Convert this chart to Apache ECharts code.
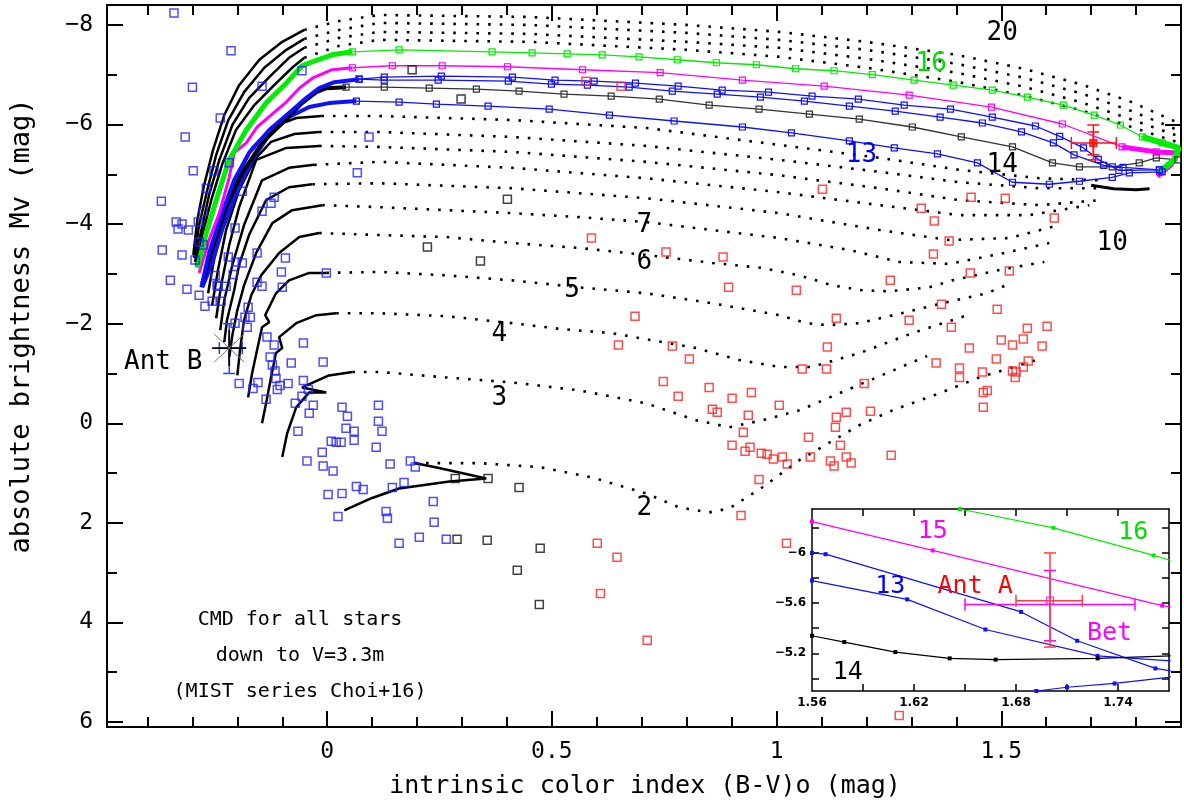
<!DOCTYPE html>
<html><head><meta charset="utf-8">
<script src="https://cdn.jsdelivr.net/npm/echarts@6/dist/echarts.min.js"></script>
<style>html,body{margin:0;padding:0;background:#fff}#c{width:1184px;height:809px}</style>
</head><body><div id="c"></div>
<script>
// ---------- tick / label values ----------
const xMajor=[0,0.5,1,1.5];
const xMinor=[-0.4,-0.3,-0.2,-0.1,0.1,0.2,0.3,0.4,0.6,0.7,0.8,0.9,1.1,1.2,1.3,1.4,1.6,1.7,1.8];
const yMajor=[-8,-6,-4,-2,0,2,4,6];
const yMinor=[-7,-5,-3,-1,1,3,5];
const insetXTicks=[1.59,1.62,1.65,1.68,1.71,1.74];
const insetXLabels=[1.56,1.62,1.68,1.74];
const insetYTicks=[-6.2,-6,-5.8,-5.6,-5.4,-5.2,-5];
const insetYLabels=[-6,-5.6,-5.2];

// ---------- evolutionary tracks (B-V, Mv) ----------
const track2MS=[[0.038,1.75],[0.100,1.50],[0.160,1.31],[0.272,1.17],[0.354,1.11],[0.249,0.90],[0.194,0.80]];
const track2Gap=[[0.194,0.80],[0.338,0.80],[0.472,0.88],[0.590,1.09],[0.710,1.41],[0.783,1.69],[0.850,1.79],[0.895,1.71],[0.968,1.29],[1.051,0.74],[1.184,0.04],[1.258,-0.26],[1.362,-0.60],[1.451,-0.92],[1.578,-1.27]];
const track3MS=[[-0.100,0.68],[-0.089,0.20],[-0.069,-0.32],[-0.040,-0.62],[-0.002,-0.62],[-0.056,-0.72],[0.004,-0.96],[0.056,-1.03]];
const track3Gap=[[0.056,-1.03],[0.116,-1.03],[0.265,-0.92],[0.412,-0.82],[0.561,-0.66],[0.710,-0.40],[0.821,-0.06],[0.895,0.08],[0.968,-0.06],[1.051,-0.26],[1.191,-0.80],[1.335,-1.35]];
const track4MS=[[-0.145,0.00],[-0.136,-0.40],[-0.125,-0.92],[-0.114,-1.41],[-0.100,-1.51],[-0.107,-1.73],[-0.069,-2.01],[-0.024,-2.17],[0.020,-2.21]];
const track4Gap=[[0.020,-2.21],[0.116,-2.21],[0.265,-2.15],[0.412,-2.01],[0.523,-1.89],[0.634,-1.81],[0.746,-1.63],[0.821,-1.51],[0.917,-1.27],[1.006,-1.13],[1.079,-1.13],[1.191,-1.43],[1.302,-1.81],[1.418,-2.15]];
const track5MS=[[-0.176,-0.52],[-0.167,-1.01],[-0.156,-1.47],[-0.145,-1.93],[-0.129,-2.03],[-0.138,-2.17],[-0.114,-2.61],[-0.085,-2.87],[-0.040,-3.02],[-0.002,-3.02]];
const track5Gap=[[-0.002,-3.02],[0.116,-3.04],[0.265,-2.97],[0.412,-2.87],[0.561,-2.73],[0.710,-2.61],[0.857,-2.41],[1.006,-2.17],[1.066,-2.01],[1.113,-1.97],[1.184,-2.01],[1.278,-2.21],[1.369,-2.41],[1.467,-2.61],[1.511,-2.77]];
const track6MS=[[-0.200,-0.96],[-0.194,-1.47],[-0.185,-2.07],[-0.169,-2.57],[-0.147,-2.97],[-0.107,-3.42],[-0.062,-3.74],[-0.018,-3.82]];
const track6Gap=[[-0.018,-3.82],[0.116,-3.78],[0.265,-3.74],[0.412,-3.62],[0.561,-3.52],[0.710,-3.38],[0.857,-3.22],[0.968,-3.12],[1.051,-2.97],[1.124,-2.77],[1.191,-2.67],[1.251,-2.65],[1.340,-2.73],[1.391,-2.87],[1.496,-3.08],[1.596,-3.24]];
const track7MS=[[-0.218,-1.33],[-0.211,-1.77],[-0.200,-2.27],[-0.185,-2.77],[-0.158,-3.42],[-0.122,-4.02],[-0.078,-4.28],[-0.011,-4.38]];
const track7Gap=[[-0.011,-4.38],[0.116,-4.34],[0.265,-4.28],[0.412,-4.22],[0.561,-4.14],[0.710,-4.04],[0.857,-3.88],[1.006,-3.72],[1.162,-3.48],[1.273,-3.24],[1.384,-3.20],[1.496,-3.40],[1.607,-3.62]];
const track8MS=[[-0.229,-1.63],[-0.223,-2.07],[-0.207,-2.67],[-0.196,-3.18],[-0.174,-3.78],[-0.136,-4.48],[-0.085,-4.74],[-0.033,-4.80]];
const track8Gap=[[-0.033,-4.80],[0.116,-4.82],[0.412,-4.72],[0.710,-4.52],[1.006,-4.22],[1.229,-3.88],[1.384,-3.68],[1.518,-3.72],[1.629,-3.98]];
const track9MS=[[-0.238,-1.87],[-0.229,-2.47],[-0.211,-3.18],[-0.185,-3.98],[-0.145,-4.88],[-0.085,-5.13],[-0.029,-5.19]];
const track9Gap=[[-0.029,-5.19],[0.116,-5.25],[0.412,-5.13],[0.710,-4.92],[1.006,-4.64],[1.229,-4.38],[1.407,-4.18],[1.562,-4.18],[1.696,-4.38]];
const track10MS=[[-0.247,-2.11],[-0.236,-2.77],[-0.218,-3.58],[-0.196,-4.34],[-0.158,-5.29],[-0.091,-5.53],[-0.018,-5.57]];
const track10Gap=[[-0.018,-5.57],[0.116,-5.55],[0.412,-5.45],[0.710,-5.25],[1.006,-4.98],[1.229,-4.72],[1.407,-4.48],[1.585,-4.38],[1.718,-4.48]];
const track11MS=[[-0.256,-2.37],[-0.243,-3.08],[-0.225,-3.88],[-0.196,-4.68],[-0.162,-5.29],[-0.125,-5.65],[-0.073,-5.81],[-0.018,-5.85]];
const track11Gap=[[-0.018,-5.85],[0.116,-5.85],[0.412,-5.75],[0.710,-5.57],[1.006,-5.29],[1.229,-5.05],[1.407,-4.84],[1.585,-4.72],[1.718,-4.72]];
const track12MS=[[-0.265,-2.61],[-0.252,-3.28],[-0.231,-4.08],[-0.203,-4.88],[-0.167,-5.53],[-0.122,-5.95],[-0.069,-6.13],[-0.013,-6.17]];
const track12Gap=[[-0.013,-6.17],[0.116,-6.17],[0.412,-6.09],[0.710,-5.93],[1.006,-5.59],[1.229,-5.33],[1.407,-5.09],[1.585,-4.92],[1.718,-4.88]];
const track17MS=[[-0.292,-3.16],[-0.278,-3.78],[-0.258,-4.48],[-0.234,-5.19],[-0.203,-5.89],[-0.162,-6.39],[-0.118,-6.79],[-0.078,-7.14],[-0.051,-7.34]];
const track17Gap=[[-0.051,-7.34],[0.027,-7.58],[0.116,-7.70],[0.45,-7.66],[0.80,-7.50],[1.006,-7.36],[1.20,-7.14],[1.40,-6.86],[1.55,-6.58],[1.68,-6.28],[1.79,-5.95],[1.89,-5.65]];
const track18MS=[[-0.294,-3.24],[-0.280,-3.88],[-0.263,-4.58],[-0.240,-5.29],[-0.211,-5.99],[-0.174,-6.53],[-0.129,-6.95],[-0.085,-7.34],[-0.051,-7.54]];
const track18Gap=[[-0.051,-7.54],[0.027,-7.74],[0.116,-7.86],[0.45,-7.82],[0.80,-7.66],[1.006,-7.54],[1.20,-7.32],[1.40,-7.04],[1.55,-6.76],[1.68,-6.44],[1.79,-6.10],[1.89,-5.78]];
const track19MS=[[-0.296,-3.32],[-0.285,-3.98],[-0.267,-4.68],[-0.247,-5.39],[-0.220,-6.09],[-0.185,-6.65],[-0.140,-7.14],[-0.091,-7.50],[-0.051,-7.72]];
const track19Gap=[[-0.051,-7.72],[0.027,-7.90],[0.116,-8.04],[0.45,-8.00],[0.80,-7.84],[1.006,-7.70],[1.20,-7.50],[1.40,-7.22],[1.55,-6.94],[1.68,-6.62],[1.79,-6.27],[1.89,-5.90]];
const track20MS=[[-0.298,-3.38],[-0.289,-4.08],[-0.274,-4.78],[-0.254,-5.49],[-0.229,-6.19],[-0.196,-6.79],[-0.151,-7.30],[-0.100,-7.66],[-0.051,-7.90]];
const track20Gap=[[-0.051,-7.90],[0.027,-8.08],[0.116,-8.20],[0.45,-8.16],[0.80,-8.00],[1.006,-7.86],[1.20,-7.66],[1.40,-7.40],[1.55,-7.12],[1.68,-6.80],[1.79,-6.45],[1.89,-6.05]];
const loopBlack=[[1.70,-4.78],[1.75,-4.71],[1.80,-4.69],[1.83,-4.71]];

// coloured tracks
const green16MS=[[-0.289,-3.12],[-0.269,-3.82],[-0.247,-4.48],[-0.218,-5.29],[-0.180,-5.89],[-0.136,-6.43],[-0.091,-6.83],[-0.056,-7.18],[-0.033,-7.26],[0.011,-7.40],[0.056,-7.46]];
const green16=[[0.056,-7.46],[0.160,-7.50],[0.367,-7.46],[0.456,-7.44],[0.534,-7.42],[0.612,-7.40],[0.694,-7.36],[0.779,-7.30],[0.866,-7.24],[0.955,-7.20],[1.042,-7.12],[1.128,-7.08],[1.213,-7.00],[1.306,-6.89],[1.393,-6.79],[1.480,-6.69],[1.558,-6.55],[1.638,-6.39],[1.707,-6.19],[1.765,-5.99],[1.814,-5.75],[1.858,-5.63]];
const green16End=[[1.814,-5.75],[1.858,-5.63],[1.895,-5.53],[1.885,-5.29],[1.852,-5.05]];
const magenta15MS=[[-0.285,-3.02],[-0.263,-3.68],[-0.240,-4.22],[-0.218,-4.94],[-0.207,-5.43],[-0.180,-5.63],[-0.156,-5.95],[-0.125,-6.19],[-0.091,-6.45],[-0.062,-6.73],[-0.033,-6.93],[0.011,-7.10],[0.056,-7.14]];
const magenta15=[[0.056,-7.14],[0.145,-7.18],[0.256,-7.18],[0.401,-7.16],[0.568,-7.10],[0.741,-7.04],[0.924,-6.89],[1.106,-6.77],[1.295,-6.59],[1.478,-6.35],[1.636,-6.01],[1.769,-5.55],[1.845,-5.45]];
const magenta15End=[[1.769,-5.55],[1.845,-5.45],[1.893,-5.43],[1.878,-5.19],[1.847,-4.96]];
const blueAMS=[[-0.280,-2.73],[-0.263,-3.42],[-0.234,-4.22],[-0.207,-4.88],[-0.174,-5.43],[-0.129,-5.89],[-0.085,-6.23],[-0.047,-6.53],[-0.018,-6.73],[0.016,-6.85],[0.071,-6.91]];
const blueA=[[0.071,-6.91],[0.127,-6.95],[0.254,-6.97],[0.412,-6.95],[0.507,-6.89],[0.594,-6.87],[0.686,-6.83],[0.781,-6.77],[0.879,-6.69],[0.982,-6.65],[1.079,-6.57],[1.182,-6.51],[1.284,-6.39],[1.387,-6.31],[1.480,-6.15],[1.576,-5.97],[1.630,-5.76],[1.683,-5.53],[1.716,-5.30],[1.762,-5.08],[1.852,-5.09]];
const blueB=[[0.071,-6.91],[0.127,-6.89],[0.247,-6.89],[0.403,-6.87],[0.499,-6.81],[0.579,-6.79],[0.672,-6.75],[0.768,-6.67],[0.868,-6.61],[0.964,-6.55],[1.062,-6.47],[1.162,-6.37],[1.264,-6.27],[1.364,-6.15],[1.458,-6.03],[1.545,-5.85],[1.616,-5.63],[1.662,-5.39],[1.728,-5.18],[1.771,-5.14],[1.852,-5.09]];
const black14MS=[[-0.278,-2.81],[-0.256,-3.48],[-0.225,-4.34],[-0.189,-5.03],[-0.145,-5.63],[-0.100,-6.03],[-0.056,-6.43],[-0.024,-6.65],[-0.002,-6.73],[0.042,-6.75]];
const black14=[[0.042,-6.75],[0.127,-6.75],[0.227,-6.73],[0.332,-6.71],[0.427,-6.67],[0.527,-6.61],[0.632,-6.57],[0.739,-6.51],[0.850,-6.39],[0.961,-6.31],[1.073,-6.21],[1.184,-6.11],[1.302,-5.95],[1.411,-5.75],[1.525,-5.55],[1.614,-5.23],[1.674,-5.15],[1.747,-5.15],[1.807,-5.23],[1.845,-5.33],[1.893,-5.29]];
const blue13MS=[[-0.278,-2.73],[-0.256,-3.22],[-0.234,-3.88],[-0.203,-4.62],[-0.167,-5.29],[-0.129,-5.79],[-0.085,-6.15],[-0.040,-6.35],[0.004,-6.43],[0.065,-6.47]];
const blue13=[[0.065,-6.47],[0.160,-6.45],[0.243,-6.41],[0.358,-6.37],[0.494,-6.31],[0.628,-6.19],[0.772,-6.07],[0.924,-5.95],[1.033,-5.83],[1.162,-5.67],[1.262,-5.53],[1.358,-5.41],[1.447,-5.23],[1.525,-4.84],[1.607,-4.80],[1.674,-4.86],[1.747,-4.94],[1.785,-5.03],[1.858,-5.05]];

// inset (zoom around Antares A)
const insetGreen=[[1.647,-6.35],[1.702,-6.20],[1.761,-5.98],[1.771,-5.94]];
const insetMagenta=[[1.56,-6.25],[1.631,-6.02],[1.766,-5.58],[1.771,-5.57]];
const insetBlueA=[[1.56,-6.0],[1.568,-5.99],[1.683,-5.53],[1.716,-5.30],[1.762,-5.08],[1.771,-5.06]];
const insetBlueB=[[1.56,-5.78],[1.616,-5.63],[1.662,-5.39],[1.728,-5.18],[1.771,-5.14]];
const insetBlack14=[[1.56,-5.34],[1.579,-5.29],[1.609,-5.21],[1.641,-5.16],[1.668,-5.15],[1.728,-5.16],[1.771,-5.18]];
const insetBlue13=[[1.692,-4.90],[1.71,-4.93],[1.738,-4.96],[1.771,-5.01]];

// ---------- stars ----------
const blueStars=[[-0.341,-8.24],[-0.214,-7.48],[-0.300,-6.75],[-0.238,-6.13],[-0.316,-5.75],[-0.298,-5.07],[-0.369,-4.46],[-0.336,-4.04],[-0.323,-4.00],[-0.332,-3.90],[-0.309,-3.88],[-0.287,-4.04],[-0.269,-4.72],[-0.252,-5.07],[-0.218,-5.23],[-0.145,-6.77],[-0.056,-7.08],[-0.189,-4.66],[-0.205,-3.92],[-0.276,-4.26],[-0.285,-3.64],[-0.276,-3.58],[-0.367,-3.48],[-0.323,-3.38],[-0.294,-3.28],[-0.349,-2.87],[-0.312,-2.69],[-0.285,-2.57],[-0.249,-2.97],[-0.209,-2.99],[-0.220,-3.34],[-0.203,-3.24],[-0.189,-3.22],[-0.156,-3.42],[-0.093,-3.32],[-0.102,-3.04],[-0.100,-2.73],[-0.156,-2.83],[-0.145,-2.75],[-0.245,-2.77],[-0.118,-4.54],[-0.125,-4.42],[-0.145,-4.26],[0.093,-5.75],[0.067,-5.03],[-0.002,-3.02],[-0.272,-2.35],[-0.256,-2.45],[-0.236,-2.45],[-0.243,-2.75],[-0.225,-2.75],[-0.205,-2.01],[-0.183,-2.13],[-0.171,-2.13],[-0.176,-2.33],[-0.178,-1.93],[-0.134,-1.73],[-0.118,-1.57],[-0.053,-1.61],[-0.127,-1.33],[-0.122,-1.17],[-0.116,-1.05],[-0.080,-1.21],[-0.009,-1.23],[-0.114,-0.90],[-0.105,-0.76],[-0.087,-0.80],[-0.053,-0.86],[-0.196,-0.80],[-0.165,-0.70],[-0.154,-0.82],[-0.111,-0.68],[-0.136,-0.48],[-0.042,-0.68],[-0.056,-0.54],[-0.071,-0.40],[-0.031,-0.36],[-0.040,-0.20],[0.033,-0.32],[0.045,-0.14],[0.114,-0.36],[0.114,-0.04],[0.122,0.16],[0.042,0.10],[0.060,0.16],[-0.065,0.16],[0.060,0.34],[0.109,0.48],[0.009,0.36],[0.020,0.38],[0.031,0.38],[-0.011,0.58],[-0.045,0.76],[-0.009,0.86],[0.013,0.96],[0.140,0.82],[0.185,0.76],[0.196,0.88],[0.065,1.27],[0.080,1.33],[0.145,1.29],[0.171,1.19],[0.002,1.43],[0.033,1.41],[0.131,1.77],[0.134,1.91],[0.024,1.87],[0.236,1.57],[0.238,1.99],[0.205,2.29],[0.265,2.33],[0.160,2.41]];
const blackStars=[[0.189,-7.10],[0.298,-6.51],[0.401,-4.50],[0.223,-3.54],[0.341,-3.26],[0.285,1.11],[0.358,1.11],[0.427,1.29],[0.289,2.33],[0.356,2.35],[0.423,2.95],[0.474,2.51],[0.472,3.64]];
const redStars=[[0.576,-6.87],[0.654,-6.77],[0.588,-3.72],[0.754,-3.44],[0.881,-3.34],[0.893,-2.73],[1.044,-2.67],[1.102,-4.70],[1.433,-4.54],[1.509,-4.52],[1.322,-4.32],[1.351,-4.06],[1.384,-3.66],[1.618,-4.12],[1.349,-3.40],[1.253,-2.87],[1.431,-3.02],[1.518,-3.06],[0.685,-2.15],[0.648,-1.57],[0.768,-1.55],[0.806,-1.29],[0.748,-0.84],[0.781,-0.54],[0.850,-0.72],[0.901,-0.50],[0.944,-0.62],[1.006,-0.36],[0.857,-0.28],[0.868,-0.22],[0.937,-0.16],[0.926,0.18],[0.901,0.44],[0.941,0.48],[0.930,0.56],[0.966,0.60],[0.979,0.62],[0.993,0.72],[1.013,0.68],[1.024,0.82],[0.961,1.13],[0.921,1.85],[1.133,-2.11],[1.113,-1.53],[1.057,-1.09],[1.111,-1.09],[1.133,-0.12],[1.155,-0.22],[1.131,0.08],[1.209,-0.24],[1.071,0.28],[1.142,0.44],[1.075,0.68],[1.120,0.76],[1.128,0.86],[1.155,0.68],[1.166,0.80],[1.255,0.64],[1.195,-0.80],[1.367,-2.39],[1.295,-2.07],[1.389,-1.93],[1.429,-1.51],[1.355,-1.21],[1.407,-1.11],[1.407,-0.92],[1.491,-2.29],[1.558,-1.91],[1.602,-1.95],[1.500,-1.67],[1.549,-1.69],[1.525,-1.57],[1.591,-1.55],[1.489,-1.29],[1.458,-1.03],[1.525,-1.05],[1.533,-1.03],[1.549,-1.13],[1.560,-1.25],[1.531,-0.92],[1.469,-0.66],[1.460,-0.62],[1.460,-0.32],[0.601,2.41],[0.645,2.69],[0.608,3.42],[0.712,4.36],[1.022,2.41],[1.273,5.87]];

// Antares components: [x, y, xLow, xHigh, yLow, yHigh]
const antAMain=[[1.705,-5.63,1.656,1.756,-5.99,-5.29],[1.705,-5.63,1.705,1.705,-5.85,-5.39]];
const antAInsetRed=[[1.70,-5.62,1.68,1.719,-6.0,-5.25]];
const antAInsetBet=[[1.70,-5.59,1.65,1.75,-5.86,-5.30]];
const antB=[[-0.218,-1.51,-0.240,-0.189,-2.0,-1.0]];

// ---------- text labels [x, y, text] ----------
const trackLabelsBlack=[[0.706,1.71,'2'],[0.383,-0.50,'3'],[0.383,-1.79,'4'],[0.545,-2.67,'5'],[0.706,-3.24,'6'],[0.706,-3.98,'7'],[1.747,-3.62,'10'],[1.502,-5.19,'14'],[1.502,-7.84,'20'],[-0.365,-1.23,'Ant B']];
const trackLabelsBlue=[[1.189,-5.39,'13']];
const trackLabelsGreen=[[1.344,-7.22,'16']];
const insetLabels=[[1.631,-6.17,'15','#ff00ff'],[1.749,-6.16,'16','#00e000'],[1.606,-5.73,'13','#0000ff'],[1.656,-5.73,'Ant A','#ff0000'],[1.735,-5.36,'Bet','#ff00ff'],[1.581,-5.05,'14','#000000']];

// ---------- build option ----------
const FONT='DejaVu Sans Mono';
const GREEN='#00ee00', MAG='#ff00ff', BLUE='#1010ff', RED='#ff1010';
function minus(v){return String(v).replace('-','\u2212');}
function ax(type,o){
  return Object.assign({type:'value',splitLine:{show:false},
    axisLine:{show:true,onZero:false,lineStyle:{color:'#000',width:o.lw||2}},
    axisTick:{show:true,inside:true,length:o.len,customValues:o.ticks,lineStyle:{color:'#000',width:o.lw||2}},
    axisLabel:o.labels?Object.assign({show:true,customValues:o.labels,color:'#000',formatter:minus},o.lf):{show:false}},o.extra);
}
const mainLF={fontFamily:FONT,fontSize:23,margin:14};
const insetLF={fontFamily:'DejaVu Sans',fontWeight:'bold',fontSize:12,margin:6};
const xMain={gridIndex:0,min:-0.49,max:1.90};
const yMain={gridIndex:0,min:-8.4,max:6.1,inverse:true};
const xIn={gridIndex:1,min:1.56,max:1.77,z:60};
const yIn={gridIndex:1,min:-6.35,max:-4.9,inverse:true,z:60};
const xAxes=[
  ax('value',{len:16,ticks:xMajor,labels:xMajor,lf:mainLF,extra:Object.assign({position:'bottom'},xMain)}),
  ax('value',{len:10,ticks:xMinor,extra:Object.assign({position:'bottom'},xMain)}),
  ax('value',{len:16,ticks:xMajor,extra:Object.assign({position:'top'},xMain)}),
  ax('value',{len:10,ticks:xMinor,extra:Object.assign({position:'top'},xMain)}),
  ax('value',{len:7,lw:1.5,ticks:insetXTicks,labels:insetXLabels,lf:insetLF,extra:Object.assign({position:'bottom'},xIn)}),
  ax('value',{len:7,lw:1.5,ticks:insetXTicks,extra:Object.assign({position:'top'},xIn)})
];
const yAxes=[
  ax('value',{len:16,ticks:yMajor,labels:yMajor,lf:mainLF,extra:Object.assign({position:'left'},yMain)}),
  ax('value',{len:10,ticks:yMinor,extra:Object.assign({position:'left'},yMain)}),
  ax('value',{len:16,ticks:yMajor,extra:Object.assign({position:'right'},yMain)}),
  ax('value',{len:10,ticks:yMinor,extra:Object.assign({position:'right'},yMain)}),
  ax('value',{len:7,lw:1.5,ticks:insetYTicks,labels:insetYLabels,lf:insetLF,extra:Object.assign({position:'left'},yIn)}),
  ax('value',{len:7,lw:1.5,ticks:insetYTicks,extra:Object.assign({position:'right'},yIn)})
];

const series=[];
function line(data,color,width,type,opts){
  const s={type:'line',data:data,xAxisIndex:0,yAxisIndex:0,symbol:'none',smooth:false,silent:true,animation:false,
    lineStyle:{color:color,width:width,type:type||'solid',cap:'butt'},z:2};
  series.push(Object.assign(s,opts||{}));
}
const DOT=[2.6,9];
const blackTracks=[[track2MS,track2Gap],[track3MS,track3Gap],[track4MS,track4Gap],[track5MS,track5Gap],[track6MS,track6Gap],[track7MS,track7Gap],[track8MS,track8Gap],[track9MS,track9Gap],[track10MS,track10Gap],[track11MS,track11Gap],[track12MS,track12Gap],[track17MS,track17Gap],[track18MS,track18Gap],[track19MS,track19Gap],[track20MS,track20Gap]];
blackTracks.forEach(function(t){ line(t[0],'#000',2.5); line(t[1],'#000',2.6,DOT); });
line(loopBlack,'#000',3);
function marked(data,color){
  line(data,color,1.3,'solid',{symbol:'rect',symbolSize:6,showSymbol:true,itemStyle:{color:'rgba(0,0,0,0)',borderColor:color,borderWidth:1.2},z:3});
}
line(blue13MS,BLUE,4,'solid',{z:3}); marked(blue13,BLUE);
line(black14MS,'#000',4,'solid',{z:3}); marked(black14,'#333');
line(blueAMS,BLUE,4,'solid',{z:3}); marked(blueA,BLUE); marked(blueB,BLUE);
line(magenta15MS,MAG,3,'solid',{z:3}); marked(magenta15,MAG); line(magenta15End,MAG,5,'solid',{z:3});
line(green16MS,GREEN,5,'solid',{z:3}); marked(green16,GREEN); line(green16End,GREEN,6,'solid',{z:3});

function scatter(data,color,size,xi,yi,fill){
  series.push({type:'scatter',data:data,xAxisIndex:xi||0,yAxisIndex:yi||0,symbol:'rect',symbolSize:size,silent:true,animation:false,
    itemStyle:{color:fill||'rgba(0,0,0,0)',borderColor:color,borderWidth:1.5},z:4});
}
scatter(blueStars,'#2222ff',8);
scatter(blackStars,'#111',8);
scatter(redStars,'#ff2020',8);
scatter([antAMain[0].slice(0,2)],RED,7,0,0,RED);

function errRender(params,api){
  const c=api.coord([api.value(0),api.value(1)]);
  const xl=api.coord([api.value(2),api.value(1)])[0], xh=api.coord([api.value(3),api.value(1)])[0];
  const yl=api.coord([api.value(0),api.value(4)])[1], yh=api.coord([api.value(0),api.value(5)])[1];
  const col=api.visual('color'); const st={stroke:col,lineWidth:1.5};
  const k=6; const ch=[];
  if(xh-xl>1){
    ch.push({type:'line',shape:{x1:xl,y1:c[1],x2:xh,y2:c[1]},style:st});
    ch.push({type:'line',shape:{x1:xl,y1:c[1]-k,x2:xl,y2:c[1]+k},style:st});
    ch.push({type:'line',shape:{x1:xh,y1:c[1]-k,x2:xh,y2:c[1]+k},style:st});
  }
  ch.push({type:'line',shape:{x1:c[0],y1:yl,x2:c[0],y2:yh},style:st});
  ch.push({type:'line',shape:{x1:c[0]-k,y1:yl,x2:c[0]+k,y2:yl},style:st});
  ch.push({type:'line',shape:{x1:c[0]-k,y1:yh,x2:c[0]+k,y2:yh},style:st});
  return {type:'group',children:ch};
}
function errSeries(data,color,xi,yi,z){
  series.push({type:'custom',data:data,xAxisIndex:xi,yAxisIndex:yi,renderItem:errRender,itemStyle:{color:color},silent:true,animation:false,z:z,clip:false});
}
errSeries(antAMain,RED,0,0,6);
errSeries(antB,'#2244ff',0,0,6);
// Ant B star symbol
series.push({type:'custom',data:antB,xAxisIndex:0,yAxisIndex:0,silent:true,animation:false,z:7,
  renderItem:function(p,api){
    const c=api.coord([api.value(0),api.value(1)]);
    const b={stroke:'#000',lineWidth:1.8}, g={stroke:'#777',lineWidth:1};
    return {type:'group',children:[
      {type:'line',shape:{x1:c[0]-17,y1:c[1],x2:c[0]+17,y2:c[1]},style:b},
      {type:'line',shape:{x1:c[0],y1:c[1]-18,x2:c[0],y2:c[1]+18},style:b},
      {type:'line',shape:{x1:c[0]-15,y1:c[1]-14,x2:c[0]+15,y2:c[1]+14},style:g},
      {type:'line',shape:{x1:c[0]-15,y1:c[1]+14,x2:c[0]+15,y2:c[1]-14},style:g}]};
  }});

// text labels tied to data coordinates
function labels(data,color,size,xi,yi,z){
  series.push({type:'scatter',data:data,xAxisIndex:xi,yAxisIndex:yi,symbolSize:1,silent:true,animation:false,z:z,
    itemStyle:{color:'rgba(0,0,0,0)'},
    label:{show:true,position:'inside',formatter:function(p){return p.data[2];},
      color:color,fontFamily:FONT,fontSize:size,opacity:1}});
}
labels(trackLabelsBlack,'#000',26,0,0,8);
labels(trackLabelsBlue,'#0000ff',26,0,0,8);
labels(trackLabelsGreen,'#00dd00',26,0,0,8);

// inset series
function insetLine(data,color){
  series.push({type:'line',data:data,xAxisIndex:4,yAxisIndex:4,symbol:'rect',symbolSize:4,showSymbol:true,silent:true,animation:false,
    lineStyle:{color:color,width:1.2},itemStyle:{color:color},z:70});
}
insetLine(insetGreen,GREEN); insetLine(insetMagenta,MAG); insetLine(insetBlueA,BLUE);
insetLine(insetBlueB,BLUE); insetLine(insetBlack14,'#000'); insetLine(insetBlue13,BLUE);
errSeries(antAInsetBet,MAG,4,4,72);
errSeries(antAInsetRed,'#ff4040',4,4,73);
series.push({type:'scatter',data:[antAInsetRed[0].slice(0,2)],xAxisIndex:4,yAxisIndex:4,symbol:'rect',symbolSize:7,silent:true,animation:false,
  itemStyle:{color:'rgba(0,0,0,0)',borderColor:MAG,borderWidth:1.2},z:74});
insetLabels.forEach(function(l){
  series.push({type:'scatter',data:[l],xAxisIndex:4,yAxisIndex:4,symbolSize:1,silent:true,animation:false,z:80,itemStyle:{color:'rgba(0,0,0,0)'},
    label:{show:true,position:'inside',formatter:function(p){return p.data[2];},color:l[3],fontFamily:FONT,fontSize:25,opacity:1}});
});

const option={
  animation:false,
  backgroundColor:'#fff',
  grid:[{left:107,top:5,width:1074,height:722},{left:812,top:509,width:357,height:182}],
  xAxis:xAxes, yAxis:yAxes, series:series,
  graphic:[
    {type:'rect',shape:{x:812,y:509,width:357,height:182},style:{fill:'#fff'},z:50},
    {type:'text',x:22,y:326,rotation:Math.PI/2,style:{text:'absolute brightness Mv (mag)',font:'27px "DejaVu Sans Mono"',fill:'#000',align:'center',verticalAlign:'middle',textAlign:'center',textVerticalAlign:'middle'},z:100},
    {type:'text',x:645,y:786,style:{text:'intrinsic color index (B-V)o (mag)',font:'25px "DejaVu Sans Mono"',fill:'#000',align:'center',verticalAlign:'middle',textAlign:'center',textVerticalAlign:'middle'},z:100},
    {type:'text',x:300,y:620,style:{text:'CMD for all stars',font:'20px "DejaVu Sans Mono"',fill:'#000',align:'center',verticalAlign:'middle',textAlign:'center',textVerticalAlign:'middle'},z:100},
    {type:'text',x:300,y:656,style:{text:'down to V=3.3m',font:'20px "DejaVu Sans Mono"',fill:'#000',align:'center',verticalAlign:'middle',textAlign:'center',textVerticalAlign:'middle'},z:100},
    {type:'text',x:300,y:692,style:{text:'(MIST series Choi+16)',font:'20px "DejaVu Sans Mono"',fill:'#000',align:'center',verticalAlign:'middle',textAlign:'center',textVerticalAlign:'middle'},z:100}
  ]
};
const chart=echarts.init(document.getElementById('c'),null,{renderer:'canvas'});
chart.setOption(option);
</script></body></html>
